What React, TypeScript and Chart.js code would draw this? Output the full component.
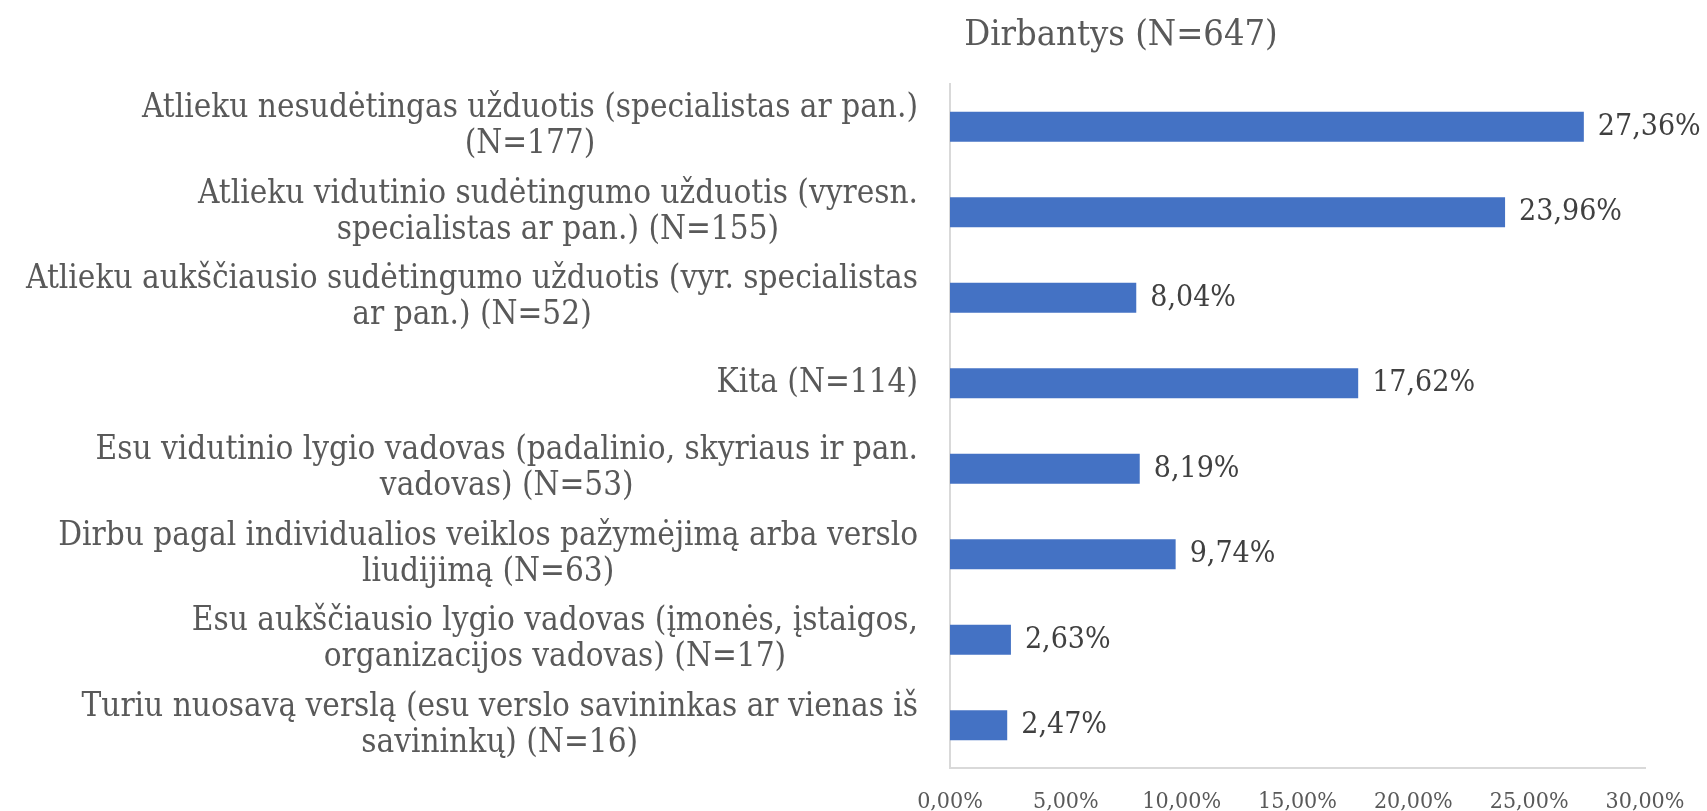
import React, { useEffect, useRef } from "react";
import { Chart, registerables } from "chart.js";

Chart.register(...registerables);

const categories: string[][] = [
  ["Atlieku nesudėtingas užduotis (specialistas ar pan.)", "(N=177)"],
  ["Atlieku vidutinio sudėtingumo užduotis (vyresn.", "specialistas ar pan.) (N=155)"],
  ["Atlieku aukščiausio sudėtingumo užduotis (vyr. specialistas", "ar pan.) (N=52)"],
  ["Kita (N=114)"],
  ["Esu vidutinio lygio vadovas (padalinio, skyriaus ir pan.", "vadovas) (N=53)"],
  ["Dirbu pagal individualios veiklos pažymėjimą arba verslo", "liudijimą (N=63)"],
  ["Esu aukščiausio lygio vadovas (įmonės, įstaigos,", "organizacijos vadovas) (N=17)"],
  ["Turiu nuosavą verslą (esu verslo savininkas ar vienas iš", "savininkų) (N=16)"],
];

const values: number[] = [27.36, 23.96, 8.04, 17.62, 8.19, 9.74, 2.63, 2.47];

const xTicks: number[] = [0, 5, 10, 15, 20, 25, 30];

const titleText = "Dirbantys (N=647)";

const FONT = '"DejaVu Serif Condensed", "DejaVu Serif", serif';

const fmt = (v: number) => v.toFixed(2).replace(".", ",") + "%";

const categoryLabelsPlugin = {
  id: "categoryLabels",
  afterDraw(chart: any) {
    const ctx = chart.ctx;
    const y = chart.scales.y;
    const labels = chart.data.labels as string[][];
    const rightEdge = chart.chartArea.left - 32;
    const lineH = 36;
    ctx.save();
    ctx.font = `33px ${FONT}`;
    ctx.fillStyle = "#595959";
    ctx.textAlign = "center";
    ctx.textBaseline = "middle";
    labels.forEach((lines, i) => {
      const cy = y.getPixelForTick(i);
      const w = Math.max(...lines.map((l) => ctx.measureText(l).width));
      const cx = rightEdge - w / 2;
      lines.forEach((l, j) => {
        ctx.fillText(l, cx, cy + (j - (lines.length - 1) / 2) * lineH);
      });
    });
    ctx.restore();
  },
};

const valueLabelsPlugin = {
  id: "valueLabels",
  afterDatasetsDraw(chart: any) {
    const ctx = chart.ctx;
    const meta = chart.getDatasetMeta(0);
    const data = chart.data.datasets[0].data as number[];
    ctx.save();
    ctx.font = `30px ${FONT}`;
    ctx.fillStyle = "#404040";
    ctx.textAlign = "left";
    ctx.textBaseline = "middle";
    meta.data.forEach((bar: any, i: number) => {
      ctx.fillText(fmt(data[i]), bar.x + 14, bar.y);
    });
    ctx.restore();
  },
};

const titlePlugin = {
  id: "customTitle",
  afterDraw(chart: any) {
    const ctx = chart.ctx;
    ctx.save();
    ctx.font = `36px ${FONT}`;
    ctx.fillStyle = "#595959";
    ctx.textAlign = "center";
    ctx.textBaseline = "alphabetic";
    ctx.fillText(titleText, 1121, 45);
    ctx.restore();
  },
};

export default function App() {
  const ref = useRef<HTMLCanvasElement | null>(null);

  useEffect(() => {
    document.body.style.margin = "0";
    if (!ref.current) return;
    const chart = new Chart(ref.current, {
      type: "bar",
      data: {
        labels: categories as any,
        datasets: [
          {
            data: values,
            backgroundColor: "#4472C4",
            borderWidth: 0,
            barPercentage: 0.35,
            categoryPercentage: 1,
          },
        ],
      },
      options: {
        indexAxis: "y",
        animation: false,
        responsive: true,
        maintainAspectRatio: false,
        layout: { padding: { top: 84, right: 62, left: 0, bottom: 0 } },
        plugins: {
          legend: { display: false },
          title: { display: false },
          tooltip: { enabled: false },
        },
        scales: {
          x: {
            min: 0,
            max: 30,
            afterBuildTicks: (s: any) => {
              s.ticks = xTicks.map((v) => ({ value: v }));
            },
            afterFit: (s: any) => {
              s.height = 43;
            },
            grid: { display: false, drawTicks: false },
            border: { display: true, color: "#D9D9D9", width: 2 },
            ticks: {
              padding: 20,
              color: "#595959",
              font: { family: FONT, size: 23 },
              maxRotation: 0,
              autoSkip: false,
              callback: (v: any) => fmt(Number(v)),
            },
          },
          y: {
            afterFit: (s: any) => {
              s.width = 950;
            },
            grid: { display: false, drawTicks: false },
            border: { display: true, color: "#D9D9D9", width: 2 },
            ticks: { display: false },
          },
        },
      },
      plugins: [categoryLabelsPlugin, valueLabelsPlugin, titlePlugin],
    });
    return () => chart.destroy();
  }, []);

  return (
    <div style={{ width: "1707px", height: "811px", position: "relative" }}>
      <canvas ref={ref} />
    </div>
  );
}
